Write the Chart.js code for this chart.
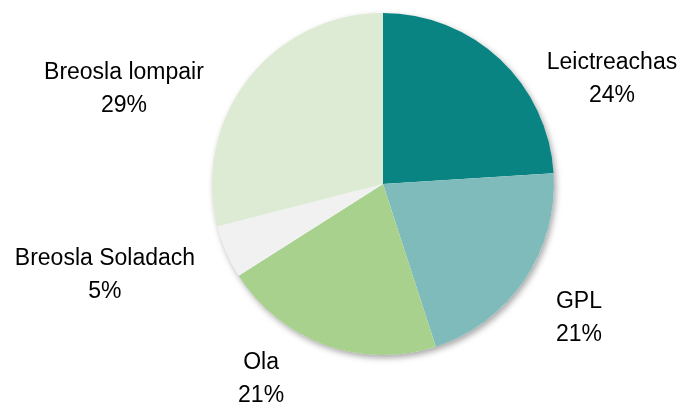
<!DOCTYPE html>
<html>
<head>
<meta charset="utf-8">
<script src="https://cdn.jsdelivr.net/npm/chart.js@4/dist/chart.umd.min.js"></script>
<style>
    html, body { margin: 0; padding: 0; background: #ffffff; }
    #wrap { width: 680px; height: 408px; position: relative; }
</style>
</head>
<body>
<div id="wrap"><canvas id="pieChart"></canvas></div>
<script>
// Chart data
const categories = ["Leictreachas", "GPL", "Ola", "Breosla Soladach", "Breosla lompair"];
const shares = [24, 21, 21, 5, 29];
const sliceColors = ["#0A8483", "#7FBBBB", "#A8D18D", "#F1F1F1", "#DDEBD4"];

// label block centres, relative to the pie centre, in units of the radius
const labelAnchors = [
    [1.339, -0.614],
    [1.146, 0.784],
    [-0.713, 1.140],
    [-1.626, 0.532],
    [-1.515, -0.556]
];

// soft shadow under the whole pie
const pieShadow = {
    id: "pieShadow",
    beforeDatasetsDraw(chart) {
        const arc = chart.getDatasetMeta(0).data[0];
        if (!arc) return;
        const ctx = chart.ctx;
        ctx.save();
        ctx.shadowColor = "rgba(0, 0, 0, 0.35)";
        ctx.shadowBlur = 6;
        ctx.shadowOffsetX = 2;
        ctx.shadowOffsetY = 3;
        ctx.fillStyle = "#ffffff";
        ctx.beginPath();
        ctx.arc(arc.x, arc.y, arc.outerRadius, 0, Math.PI * 2);
        ctx.fill();
        ctx.restore();
    }
};

// two-line outside labels: name and percentage
const outsideLabels = {
    id: "outsideLabels",
    afterDatasetsDraw(chart) {
        const meta = chart.getDatasetMeta(0);
        const ctx = chart.ctx;
        ctx.save();
        ctx.font = "23px 'Liberation Sans', Arial, sans-serif";
        ctx.fillStyle = "#000000";
        ctx.textAlign = "center";
        ctx.textBaseline = "middle";
        meta.data.forEach((arc, i) => {
            const r = arc.outerRadius;
            const cx = arc.x + labelAnchors[i][0] * r;
            const cy = arc.y + labelAnchors[i][1] * r;
            ctx.fillText(categories[i], cx, cy - 16);
            ctx.fillText(shares[i] + "%", cx, cy + 17);
        });
        ctx.restore();
    }
};

const ctx = document.getElementById("pieChart").getContext("2d");
new Chart(ctx, {
    type: "pie",
    data: {
        labels: categories,
        datasets: [{
            data: shares,
            backgroundColor: sliceColors,
            borderWidth: 0
        }]
    },
    options: {
        responsive: true,
        maintainAspectRatio: false,
        animation: false,
        layout: {
            padding: { left: 212, right: 126, top: 13, bottom: 53 }
        },
        plugins: {
            legend: { display: false },
            tooltip: { enabled: false }
        }
    },
    plugins: [pieShadow, outsideLabels]
});
</script>
</body>
</html>
